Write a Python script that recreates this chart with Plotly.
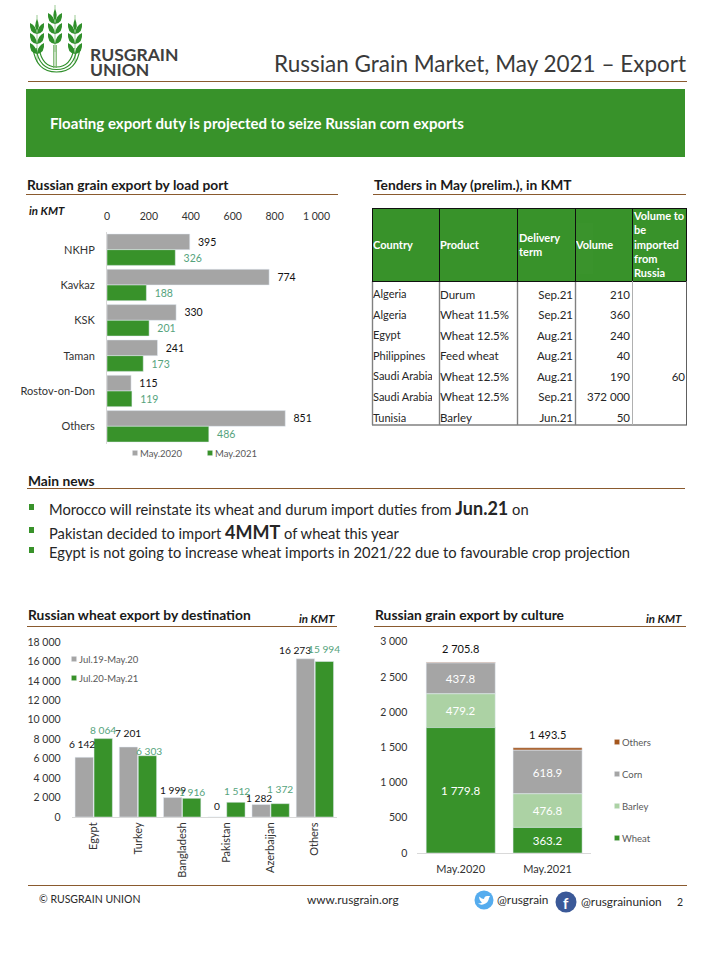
import plotly.graph_objects as go

W, H = 720, 960
FONT = "Lato"
GREEN = "#38922a"
GRAY = "#a5a5a5"
LGREEN = "#acd2a4"
BROWN = "#a5561c"
TEAL = "#55a37c"
RULE = "#8a5a2e"
DARK = "#262626"

# ---------- data ----------
ports = ["NKHP", "Kavkaz", "KSK", "Taman", "Rostov-on-Don", "Others"]
port_2020 = [395, 774, 330, 241, 115, 851]
port_2021 = [326, 188, 201, 173, 119, 486]

dest = ["Egypt", "Turkey", "Bangladesh", "Pakistan", "Azerbaijan", "Others"]
dest_1920 = [6142, 7201, 1999, 0, 1282, 16273]
dest_2021 = [8064, 6303, 1916, 1512, 1372, 15994]

periods = ["May.2020", "May.2021"]
wheat = [1779.8, 363.2]
barley = [479.2, 476.8]
corn = [437.8, 618.9]
others = [9.0, 34.6]
totals = [2705.8, 1493.5]

t_country = ["Algeria", "Algeria", "Egypt", "Philippines", "Saudi Arabia", "Saudi Arabia", "Tunisia"]
t_product = ["Durum", "Wheat 11.5%", "Wheat 12.5%", "Feed wheat", "Wheat 12.5%", "Wheat 12.5%", "Barley"]
t_term = ["Sep.21", "Sep.21", "Aug.21", "Aug.21", "Aug.21", "Sep.21", "Jun.21"]
t_volume = [210, 360, 240, 40, 190, 372000, 50]
t_russia = ["", "", "", "", "60", "", ""]

# label nudges (pixels) for the wheat chart, relative to bar centre / bar top
d1920_dx = [-2.5, 0, 0, 0, -2, -10]
d1920_dy = [13, 14, 8, 11, 7, 9]
d2021_dx = [0, 2, 0, 1, 0, 0]
d2021_dy = [9, 5, 6, 11, 15, 13]


def px(x):
    return x / W


def py(y):
    return 1 - y / H


fig = go.Figure()

# ---------- chart 1: load port ----------
fig.add_trace(go.Bar(y=ports, x=port_2020, name="May.2020", orientation="h", marker_color=GRAY,
                     xaxis="x", yaxis="y", texttemplate="\u2002%{x:,d}", textposition="outside",
                     width=0.445, offset=-0.445,
                     cliponaxis=False, textfont=dict(color="#111111", size=10.5, family=FONT),
                     legend="legend"))
fig.add_trace(go.Bar(y=ports, x=port_2021, name="May.2021", orientation="h", marker_color=GREEN,
                     xaxis="x", yaxis="y", texttemplate="\u2002%{x:,d}", textposition="outside",
                     width=0.445, offset=0,
                     cliponaxis=False, textfont=dict(color=TEAL, size=10.5, family=FONT),
                     legend="legend"))

# ---------- chart 2: destination ----------
fig.add_trace(go.Bar(x=dest, y=dest_1920, name="Jul.19-May.20", marker_color=GRAY, width=0.415, offset=-0.422,
                     xaxis="x2", yaxis="y2", legend="legend2", legendgroup="a"))
fig.add_trace(go.Bar(x=dest, y=dest_2021, name="Jul.20-May.21", marker_color=GREEN, width=0.415, offset=0.007,
                     xaxis="x2", yaxis="y2", legend="legend2", legendgroup="b"))

# ---------- chart 3: culture ----------
for nm, vals, col, txt in [("Others", others, BROWN, False), ("Corn", corn, GRAY, True),
                           ("Barley", barley, LGREEN, True), ("Wheat", wheat, GREEN, True)]:
    under = {"Others": [a + b + c for a, b, c in zip(wheat, barley, corn)],
             "Corn": [a + b for a, b in zip(wheat, barley)],
             "Barley": list(wheat), "Wheat": [0.0, 0.0]}[nm]
    fig.add_trace(go.Bar(x=periods, y=vals, base=under, name=nm, marker_color=col, xaxis="x3", yaxis="y3",
                         legend="legend3", legendgroup=nm, offsetgroup="s", alignmentgroup="s", width=0.795,
                         texttemplate="%{value:,.1f}" if txt else None,
                         textposition="inside" if txt else "none", insidetextanchor="middle",
                         textangle=0,
                         insidetextfont=dict(color="white", size=11.5, family=FONT)))


# ---------- table ----------
def table(x0, x1, y0, y1, widths, values, header=None, height=20.55, color=DARK, size=11, bold=False):
    dom = dict(x=[px(x0), px(x1)], y=[py(y1), py(y0)])
    clear = "rgba(0,0,0,0)"
    fig.add_trace(go.Table(
        domain=dom, columnwidth=widths,
        header=dict(values=header, height=1, fill_color=clear, line_width=0, font=dict(size=1, color=clear)),
        cells=dict(values=values, height=height, fill_color=clear, line_width=0,
                   align=["left", "left", "right", "right", "right"][:len(values)] if not bold else "left",
                   font=dict(family=FONT, size=size, color=color))))


vol_txt = [f"{v:,}".replace(",", "\u00a0") for v in t_volume]
nb = lambda L: [s.replace(" ", "\u00a0") for s in L]
table(365, 693, 281, 431, [67, 78, 71, 57, 55],
      [nb(t_country), nb(t_product), t_term, vol_txt, t_russia], header=["", "", "", "", ""],
      size=[11, 11.5, 11.5, 11.5, 11.5])
hdr = "<b>%s</b>"
table(365, 700, 200, 285, [67, 79, 57, 58, 74],
      [[hdr % "\u00a0<br>\u00a0<br>Country"], [hdr % "\u00a0<br>\u00a0<br>Product"], [""],
       [hdr % "\u00a0<br>\u00a0<br>Volume"],
       [hdr % "Volume to<br>be<br>imported<br>from<br>Russia"]],
      header=["", "", "", "", ""], height=82, color="white", bold=True)
table(511, 575, 222, 275, [64],
      [[hdr % "Delivery<br>term"]], header=[""], height=50, color="white", bold=True)

# ---------- shapes ----------
shapes = []


def line(x0, y0, x1, y1, color=RULE, width=1, layer="above"):
    shapes.append(dict(type="line", xref="paper", yref="paper", x0=px(x0), y0=py(y0), x1=px(x1), y1=py(y1),
                       line=dict(color=color, width=width), layer=layer))


def rule(x0, y, x1):
    line(x0, y + 0.5, x1, y + 0.5)


def rect(x0, y0, x1, y1, color, layer="below"):
    shapes.append(dict(type="rect", xref="paper", yref="paper", x0=px(x0), y0=py(y0), x1=px(x1), y1=py(y1),
                       fillcolor=color, line_width=0, layer=layer))


def path(cmds, fill=None, color=None, width=0):
    s = ""
    for c in cmds:
        if isinstance(c, str):
            s += c
        else:
            s += f"{px(c[0]):.5f},{py(c[1]):.5f} "
    shapes.append(dict(type="path", xref="paper", yref="paper", path=s, fillcolor=fill or "rgba(0,0,0,0)",
                       line=dict(color=color or "rgba(0,0,0,0)", width=width), layer="above"))


def circle(cx, cy, r, color):
    shapes.append(dict(type="circle", xref="paper", yref="paper", x0=px(cx - r), x1=px(cx + r),
                       y0=py(cy + r), y1=py(cy - r), fillcolor=color, line_width=0, layer="above"))


# rules
rule(28, 81, 687)
rule(26, 194, 338)
rule(373, 194, 686)
rule(27, 488, 685)
rule(27, 626, 337)
rule(374, 626, 686)
rule(28, 885, 687)
rect(26, 89, 685, 157, GREEN)

# table grid
col_edges = [372, 439, 517, 575, 632, 686]
rect(372, 208, 686, 281, GREEN)
for xe in col_edges:
    line(xe + 0.5, 208, xe + 0.5, 281, "#101010", 1)
    if xe < 632:
        line(xe + 0.5, 281, xe + 0.5, 425, "#808080", 1.4)
line(372, 208.5, 687, 208.5, "#101010", 1)
line(372, 281.5, 687, 281.5, "#101010", 1)
line(372, 425, 687, 425, "#808080", 1.6)
line(632.5, 281, 632.5, 425, "#b0b0b0", 1)
line(686.5, 281, 686.5, 425, "#606060", 1)

# bullets
for yb in (507, 530, 550):
    rect(29, yb - 3, 34, yb + 3, GREEN)


# logo
def leaf(cx, y, side):
    path(["M", (cx, y), "Q", (cx + side * 8, y - 1), (cx + side * 7, y - 11), "Q", (cx + side * 0.5, y - 8),
          (cx, y), "Z"], fill="#2f8f2a")


for cx, top, n0 in [(37, 15, 34), (55, 5, 24), (75, 15, 34)]:
    path(["M", (cx, top), "L", (cx, n0 + 28)], color="#9ccb94", width=1)
    path(["M", (cx, top + 4), "Q", (cx - 3.5, top + 11), (cx, top + 16), "Q", (cx + 3.5, top + 11), (cx, top + 4), "Z"],
         fill="#2f8f2a")
    for k in range(3):
        leaf(cx, n0 + k * 10, -1)
        leaf(cx, n0 + k * 10, 1)
for x_l, x_r, yb in [(33, 80, 72), (36, 77, 69.5), (39, 74, 67)]:
    path(["M", (x_l, 48), "Q", (x_l + 3, yb), ((x_l + x_r) / 2, yb), "Q", (x_r - 3, yb), (x_r, 48)],
         color="#2f8f2a", width=1.2)
for xs in (53.5, 55, 56.5):
    line(xs, 45, xs, 68, "#6fae62", 0.8)

# social icons
circle(484, 900, 9.5, "#55acee")
path(["M", (479, 896.5), "Q", (482, 899), (484, 899), "Q", (484.5, 895.5), (488, 896), "L", (490, 896), "L", (489, 898),
      "Q", (488.5, 903), (483, 904.5), "Q", (480, 905), (478, 903.5), "Q", (481, 903.5), (482, 902.5),
      "Q", (479.5, 901), (479, 896.5), "Z"], fill="white")
circle(566, 902, 10.5, "#3b5998")

# ---------- annotations ----------
ann = []


def text(x, y, s, size=11, color=DARK, anchor="left", fam=FONT, **kw):
    ann.append(dict(xref="paper", yref="paper", x=px(x), y=py(y), text=s, showarrow=False, xanchor=anchor,
                    yanchor="middle", font=dict(family=fam, size=size, color=color), borderpad=0, **kw))


HEAD = "#1a1a1a"
text(687, 64, "Russian Grain Market, May 2021 – Export", 22.5, "#3a3a3a", "right")
text(89, 54, "<b>RUSGRAIN</b>", 17.5, "#3f3f3f")
text(89, 69, "<b>UNION</b>", 17.5, "#3f3f3f")
text(49, 123, "<b>Floating export duty is projected to seize Russian corn exports</b>", 15, "white")
text(26, 184.5, "<b>Russian grain export by load port</b>", 13.8, HEAD)
text(373, 184.5, "<b>Tenders in May (prelim.), in KMT</b>", 13.8, HEAD)
text(28, 211, "<b><i>in KMT</i></b>", 11.5, HEAD)
text(27, 480.5, "<b>Main news</b>", 13.8, HEAD)
text(48, 508, 'Morocco will reinstate its wheat and durum import duties from <b><span style="font-size:18px">Jun.21</span></b> on', 14.7)
text(48, 532, 'Pakistan decided to import <b><span style="font-size:18px">4MMT</span></b> of wheat this year', 14.7)
text(48, 552, "Egypt is not going to increase wheat imports in 2021/22 due to favourable crop projection", 14.7)
text(27, 614.5, "<b>Russian wheat export by destination</b>", 13.8, HEAD)
text(336, 618, "<b><i>in KMT</i></b>", 11.5, HEAD, "right")
text(374, 614.5, "<b>Russian grain export by culture</b>", 13.8, HEAD)
text(683, 618, "<b><i>in KMT</i></b>", 11.5, HEAD, "right")
text(38, 899, "© RUSGRAIN UNION", 10.5, "#2a2a2a")
text(306, 899, "www.rusgrain.org", 11.8, "#2a2a2a")
text(496, 899, "@rusgrain", 11.8, "#2a2a2a")
text(580, 901, "@rusgrainunion", 11.8, "#2a2a2a")
text(684, 902, "2", 10.5, "#2a2a2a", "right")
text(566, 903, "<b>f</b>", 15, "white", "center")


# wheat chart labels, anchored to data through the axes
def bar_labels(vals, off, dxs, dys, color):
    for c, v, dx, dy in zip(dest, vals, dxs, dys):
        ann.append(dict(xref="x2", yref="y2", x=c, y=v, text=f"{v:,}".replace(",", " "), showarrow=False,
                        xshift=off + dx, yshift=dy, font=dict(family=FONT, size=10.2, color=color)))


bar_labels(dest_1920, -9.5, d1920_dx, d1920_dy, "#111111")
bar_labels(dest_2021, 9.5, d2021_dx, d2021_dy, TEAL)

for p, t in zip(periods, totals):
    ann.append(dict(xref="x3", yref="y3", x=p, y=t, text=f"{t:,.1f}".replace(",", " "), showarrow=False,
                    yshift=13.5, font=dict(family=FONT, size=11, color="#111111")))

tick = dict(family=FONT, size=11, color="#333333")
num = dict(family=FONT, size=10.5, color="#333333")
axis_line = "#d9d9d9"
leg_font = dict(family=FONT, size=9.5, color="#595959")

fig.update_layout(
    width=W, height=H, margin=dict(l=0, r=0, t=0, b=0, autoexpand=False), paper_bgcolor="white", plot_bgcolor="white",
    font=dict(family=FONT), separators=". ", barmode="group", showlegend=True,
    shapes=shapes, annotations=ann, hovermode=False,
    bargap=0.15,
    xaxis=dict(domain=[px(107), px(316.5)], range=[0, 1000], side="top", anchor="y", tickvals=[0, 200, 400, 600, 800, 1000],
               tickformat=",d", showgrid=False, zeroline=False, showline=False, tickfont=num, ticks="", ticklabelstandoff=9),
    yaxis=dict(domain=[py(444), py(232)], autorange="reversed", anchor="x", showgrid=False, zeroline=False,
               showline=True, linecolor=axis_line, tickfont=tick, ticks="", ticklabelstandoff=9),
    xaxis2=dict(domain=[px(71.6), px(337)], range=[-0.5, 5.5], anchor="y2", showgrid=False, zeroline=False, showline=True,
                linecolor=axis_line, tickangle=-90, tickfont=tick, ticks=""),
    yaxis2=dict(domain=[py(817), py(642)], range=[0, 18000], dtick=2000, tickformat=",d", anchor="x2",
                showgrid=False, zeroline=False, showline=False, tickfont=num, ticks="", ticklabelstandoff=10),
    xaxis3=dict(domain=[px(417.3), px(591)], range=[-0.5, 1.5], anchor="y3", showgrid=False, zeroline=False, showline=True,
                linecolor=axis_line, tickfont=tick, ticks="", ticklabelstandoff=6),
    yaxis3=dict(domain=[py(853), py(641.6)], range=[0, 3000], dtick=500, tickformat=",d", anchor="x3",
                showgrid=False, zeroline=False, showline=False, tickfont=num, ticks="", ticklabelstandoff=9),
    legend=dict(orientation="h", x=px(100), y=py(453), xanchor="left", yanchor="middle", bgcolor="rgba(0,0,0,0)",
                font=leg_font, itemwidth=30, entrywidth=30, tracegroupgap=0),
    legend2=dict(x=px(39), y=py(668.5), xanchor="left", yanchor="middle", bgcolor="rgba(0,0,0,0)",
                 font=leg_font, itemwidth=30, tracegroupgap=0),
    legend3=dict(x=px(582), y=py(790), xanchor="left", yanchor="middle", bgcolor="rgba(0,0,0,0)", traceorder="grouped",
                 font=leg_font, itemwidth=30, tracegroupgap=13),
)

post = """
document.body.style.margin='0';
document.body.style.overflow='hidden';
function fixLegend(){
  document.querySelectorAll('.legendpoints path').forEach(function(p){
    p.setAttribute('transform','translate(35,0) scale(0.42)');
  });
  document.querySelectorAll('.scrollbox').forEach(function(g){ g.removeAttribute('clip-path'); });
}
fixLegend();
[0, 30, 100, 250, 500, 1000].forEach(function(t){ setTimeout(fixLegend, t); });
"""
fig.write_html("out.html", post_script=post, config=dict(displayModeBar=False))
